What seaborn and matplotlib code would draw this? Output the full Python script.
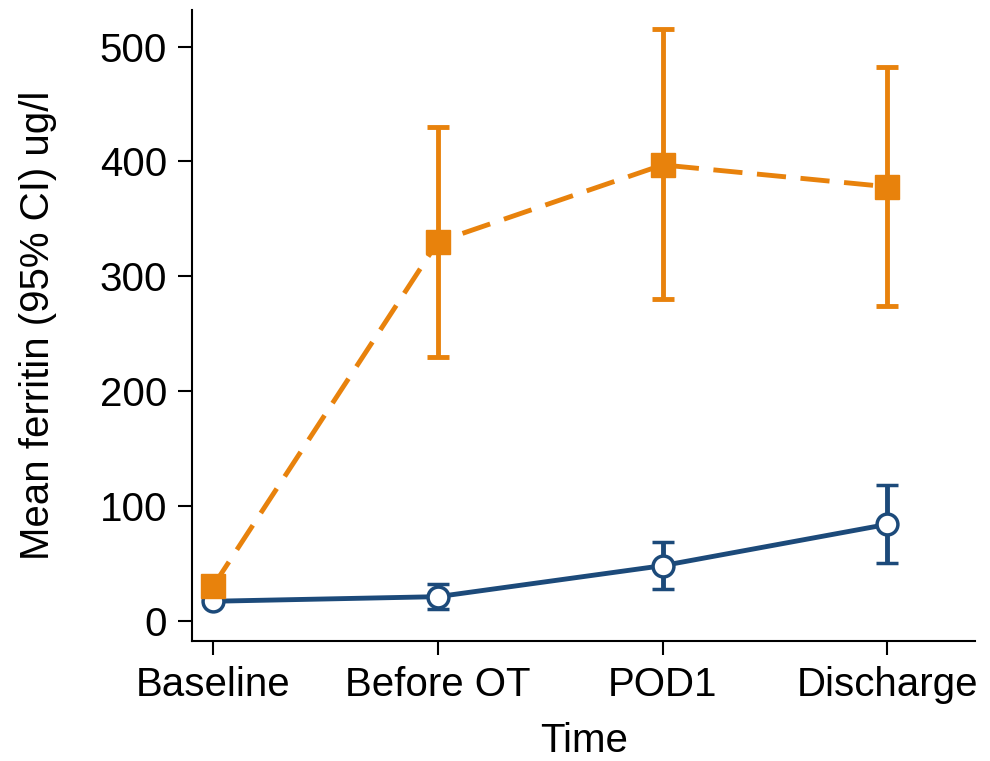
import matplotlib
matplotlib.use("Agg")
import matplotlib.pyplot as plt
import numpy as np
import pandas as pd
import seaborn as sns

sns.set_style("ticks")
plt.rcParams['font.family'] = ['Liberation Sans', 'DejaVu Sans']

times = ["Baseline", "Before OT", "POD1", "Discharge"]

orange_mean = [30, 330, 397, 378]
orange_lo = [27, 230, 280, 274]
orange_hi = [33, 430, 515, 482]

blue_mean = [17, 21, 48, 84]
blue_lo = [15, 10, 28, 50]
blue_hi = [19, 32, 69, 118]

orange = "#e8820c"
blue = "#1c4a7a"

df = pd.DataFrame({
    "time": times * 2,
    "x": list(range(4)) * 2,
    "mean": orange_mean + blue_mean,
    "lo": orange_lo + blue_lo,
    "hi": orange_hi + blue_hi,
    "group": ["orange"] * 4 + ["blue"] * 4,
})

fig = plt.figure(figsize=(9.9, 7.61), dpi=100)
ax = fig.add_axes([0.194, 0.158, 0.791, 0.829])

b = df[df.group == "blue"]
o = df[df.group == "orange"]

# blue series: solid line, hollow circles
ax.errorbar(b.x, b["mean"], yerr=[b["mean"] - b.lo, b.hi - b["mean"]],
            color=blue, lw=3.5, ecolor=blue, elinewidth=3.5, capsize=8, capthick=3.5,
            marker="o", ms=15, mfc="white", mec=blue, mew=2.5, zorder=3)
# orange series: dashed line, filled squares
ax.errorbar(o.x, o["mean"], yerr=[o["mean"] - o.lo, o.hi - o["mean"]],
            color=orange, lw=3.5, ls="--", dashes=(6, 3), ecolor=orange, elinewidth=3.5,
            capsize=8, capthick=3.5, marker="s", ms=17, mfc=orange, mec=orange, zorder=4)

ax.set_xlim(-0.093, 3.39)
ax.set_ylim(-17.4, 532)
ax.set_xticks(range(4))
ax.set_xticklabels(times)
ax.set_yticks([0, 100, 200, 300, 400, 500])
ax.tick_params(labelsize=29, length=10, width=1.5, colors="black", pad=8)
for s in ["left", "bottom"]:
    ax.spines[s].set_linewidth(1.5)
    ax.spines[s].set_color("black")
sns.despine(ax=ax)
ax.set_xlabel("Time", fontsize=29, labelpad=13, color="black")
ax.set_ylabel("Mean ferritin (95% CI) ug/l", fontsize=29, labelpad=31, color="black")

fig.savefig("out.png", dpi=100)
